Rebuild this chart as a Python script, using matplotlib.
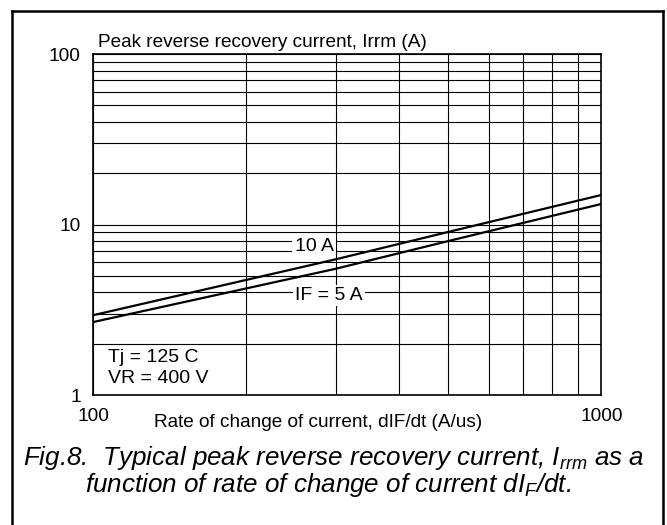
import numpy as np
import matplotlib
matplotlib.use("Agg")
import matplotlib.pyplot as plt
from matplotlib.lines import Line2D
from matplotlib.ticker import NullFormatter, FixedLocator, FixedFormatter

plt.rcParams['font.family'] = ['Liberation Sans', 'DejaVu Sans']
plt.rcParams['mathtext.fontset'] = 'custom'
plt.rcParams['mathtext.rm'] = 'Liberation Sans'
plt.rcParams['mathtext.it'] = 'Liberation Sans:italic'

# ----------------------------
# Data
# ----------------------------
didt = [100, 300, 500, 1000]              # A/us
irrm_10a = [2.94, 6.25, 9.05, 14.9]       # IF = 10 A
irrm_5a = [2.68, 5.5, 8.0, 13.2]          # IF = 5 A

x_ticks = [100, 1000]
x_tick_labels = ["100", "1000"]
y_ticks = [1, 10, 100]
y_tick_labels = ["1", "10", "100"]

# ----------------------------
# Figure
# ----------------------------
fig = plt.figure(figsize=(6.67, 5.25), dpi=100)
ax = fig.add_axes([0.1399, 0.2476, 0.7616, 0.6495])

ax.set_xscale("log")
ax.set_yscale("log")
ax.set_xlim(100, 1000)
ax.set_ylim(1, 100)

ax.plot(didt, irrm_10a, color="black", lw=1.6, solid_capstyle="butt")
ax.plot(didt, irrm_5a, color="black", lw=1.6, solid_capstyle="butt")

ax.xaxis.set_major_locator(FixedLocator(x_ticks))
ax.xaxis.set_major_formatter(FixedFormatter(x_tick_labels))
ax.yaxis.set_major_locator(FixedLocator(y_ticks))
ax.yaxis.set_major_formatter(FixedFormatter(y_tick_labels))
ax.xaxis.set_minor_formatter(NullFormatter())
ax.yaxis.set_minor_formatter(NullFormatter())
ax.tick_params(which="both", length=0, labelsize=13.8)
ax.tick_params(axis="x", pad=9)
ax.tick_params(axis="y", pad=9)

ax.grid(True, which="both", color="black", lw=0.8)
for s in ax.spines.values():
    s.set_linewidth(1.2)
    s.set_color("black")

# axis titles
ax.text(0.009, 1.035, "Peak reverse recovery current, Irrm (A)",
        transform=ax.transAxes, fontsize=13.7, ha="left", va="center")
ax.text(0.443, -0.082, "Rate of change of current, dIF/dt (A/us)",
        transform=ax.transAxes, fontsize=13.7, ha="center", va="center")

# curve labels
box = dict(facecolor="white", edgecolor="none", pad=1.5)
ax.text(272, 7.44, "10 A", fontsize=14, ha="center", va="center", bbox=box, zorder=3)
ax.text(291, 3.84, "IF = 5 A", fontsize=14, ha="center", va="center", bbox=box, zorder=3)

ax.text(0.029, 0.111, "Tj = 125 C", transform=ax.transAxes, fontsize=14,
        ha="left", va="center")
ax.text(0.029, 0.047, "VR = 400 V", transform=ax.transAxes, fontsize=14,
        ha="left", va="center")

# caption
fig.text(0.5, 1 - 458 / 525, r"Fig.8.  Typical peak reverse recovery current, $I_{rrm}$ as a",
         fontsize=18.7, style="italic", ha="center", va="center")
fig.text(0.492, 1 - 485 / 525, r"function of rate of change of current d$I_F$/dt.",
         fontsize=18.7, style="italic", ha="center", va="center")

# outer frame
fig.add_artist(Line2D([0.018, 0.018], [-0.01, 0.98], color="black", lw=1.8))
fig.add_artist(Line2D([0.018, 0.9933], [0.98, 0.98], color="black", lw=1.8))
fig.add_artist(Line2D([0.9933, 0.9933], [-0.01, 0.98], color="black", lw=1.8))

fig.savefig("out.png", dpi=100)
